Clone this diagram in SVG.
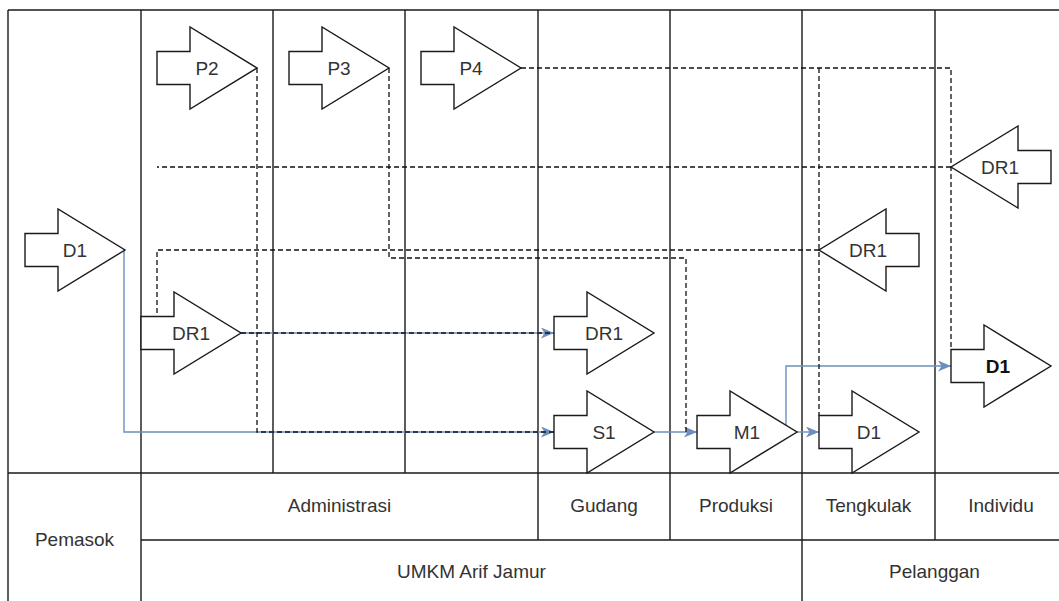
<svg xmlns="http://www.w3.org/2000/svg" xmlns:xlink="http://www.w3.org/1999/xlink" width="1059" height="601" viewBox="0 0 1059 601">
<style>
.lane{fill:none;stroke:#1a1a1a;stroke-width:1.4}
.shape{fill:#fff;stroke:#1a1a1a;stroke-width:1.4;stroke-linejoin:miter}
.t{font-family:"Liberation Sans",Arial,sans-serif;font-size:19px;fill:#333;text-anchor:middle}
.b{font-weight:bold;fill:#111}
.dash{fill:none;stroke:#111;stroke-width:1.3;stroke-dasharray:5 3}
.blue{fill:none;stroke:#6c8ebf;stroke-width:1.4}
</style>
<defs>
<path id="ra" d="M0,24.5 H33 V0 L100,41 L33,82 V57.5 H0 Z"/>
<path id="la" d="M100,24.5 H67 V0 L0,41 L67,82 V57.5 H100 Z"/>
<marker id="ah" markerUnits="userSpaceOnUse" viewBox="0 0 13 11" refX="13" refY="5.5" markerWidth="13" markerHeight="11" orient="auto">
<path d="M0,0 L13,5.5 L0,11 L3.5,5.5 Z" fill="#6c8ebf"/>
</marker>
</defs>
<rect width="1059" height="601" fill="#fff"/>
<g id="lanes">
<path class="lane" d="M8,10 H1067 M8,10 V610 M141,10 V610 M273,10 V473 M405,10 V473 M538,10 V540 M670,10 V540 M802,10 V610 M935,10 V540 M1067,10 V610 M8,473 H1067 M141,540 H1067"/>
<text class="t" x="74.5" y="546">Pemasok</text>
<text class="t" x="339.5" y="512">Administrasi</text>
<text class="t" x="604" y="512">Gudang</text>
<text class="t" x="736" y="512">Produksi</text>
<text class="t" x="868.5" y="512">Tengkulak</text>
<text class="t" x="1001" y="512">Individu</text>
<text class="t" x="471.5" y="578">UMKM Arif Jamur</text>
<text class="t" x="934.5" y="578">Pelanggan</text>
</g>
<g id="connectors">
<path class="blue" d="M124,250 V432 H554" marker-end="url(#ah)"/>
<path class="blue" d="M241,333 H554" marker-end="url(#ah)"/>
<path class="blue" d="M654,432 H697" marker-end="url(#ah)"/>
<path class="blue" d="M797,432 H819" marker-end="url(#ah)"/>
<path class="blue" d="M797,432 H786 V366 H951" marker-end="url(#ah)"/>
<path class="dash" d="M257,68 V432 H554"/>
<path class="dash" d="M241,333 H554"/>
<path class="dash" d="M389,68 V258 H686 V432"/>
<path class="dash" d="M521,68 H951 V349.5"/>
<path class="dash" d="M819,68 V415.5"/>
<path class="dash" d="M819,250 H157 V316.5"/>
<path class="dash" d="M951,167 H157"/>
</g>
<g id="node-p2"><use xlink:href="#ra" class="shape" x="157" y="27"/><text class="t" x="207" y="75">P2</text></g>
<g id="node-p3"><use xlink:href="#ra" class="shape" x="289" y="27"/><text class="t" x="339" y="75">P3</text></g>
<g id="node-p4"><use xlink:href="#ra" class="shape" x="421" y="27"/><text class="t" x="471" y="75">P4</text></g>
<g id="node-d1-pemasok"><use xlink:href="#ra" class="shape" x="25" y="209"/><text class="t" x="75" y="257">D1</text></g>
<g id="node-dr1-admin"><use xlink:href="#ra" class="shape" x="141" y="292"/><text class="t" x="191" y="340">DR1</text></g>
<g id="node-dr1-gudang"><use xlink:href="#ra" class="shape" x="554" y="292"/><text class="t" x="604" y="340">DR1</text></g>
<g id="node-s1"><use xlink:href="#ra" class="shape" x="554" y="391"/><text class="t" x="604" y="439">S1</text></g>
<g id="node-m1"><use xlink:href="#ra" class="shape" x="697" y="391"/><text class="t" x="747" y="439">M1</text></g>
<g id="node-d1-tengkulak"><use xlink:href="#ra" class="shape" x="819" y="391"/><text class="t" x="869" y="439">D1</text></g>
<g id="node-d1-individu"><use xlink:href="#ra" class="shape" x="951" y="325"/><text class="t b" x="998" y="373">D1</text></g>
<g id="node-dr1-tengkulak"><use xlink:href="#la" class="shape" x="819" y="209"/><text class="t" x="868" y="257">DR1</text></g>
<g id="node-dr1-individu"><use xlink:href="#la" class="shape" x="951" y="126"/><text class="t" x="1000" y="174">DR1</text></g>
</svg>
